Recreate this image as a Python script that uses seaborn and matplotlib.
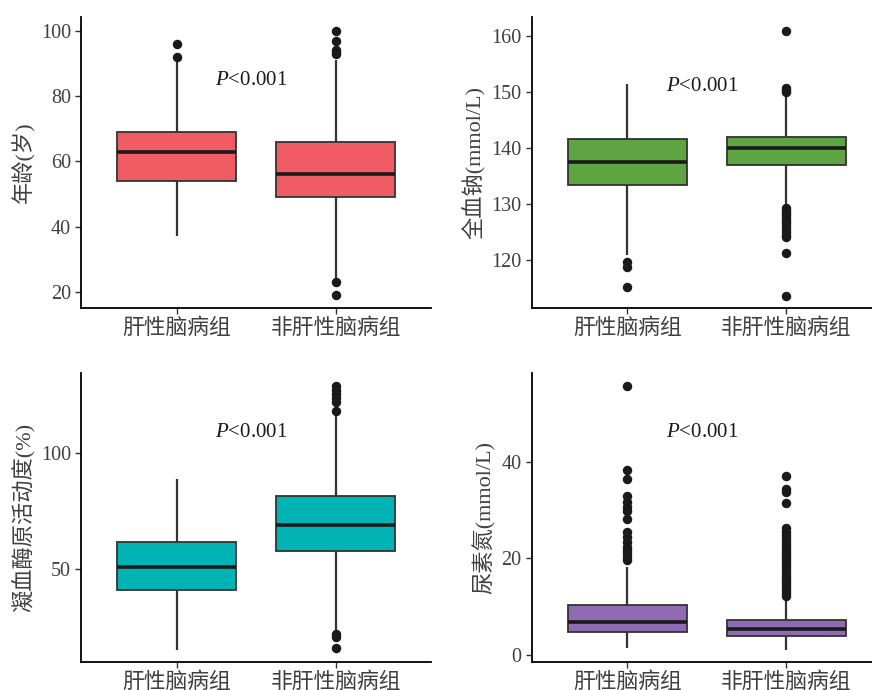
import pandas as pd
import matplotlib
matplotlib.use("Agg")
import matplotlib.pyplot as plt
import seaborn as sns

groups = ["肝性脑病组", "非肝性脑病组"]

# 年龄(岁): quartiles, whisker ends and outliers
age_q1 = [54, 49]
age_med = [63, 56]
age_q3 = [69, 66]
age_lo = [37, 24]
age_hi = [91, 91]
age_out = [[92, 96], [100, 97, 94, 93.5, 93, 23, 19]]

# 全血钠(mmol/L)
na_q1 = [133.3, 137.0]
na_med = [137.5, 140.0]
na_q3 = [141.6, 142.0]
na_lo = [120.9, 129.6]
na_hi = [151.3, 149.3]
na_out = [[119.7, 118.8, 115.2],
          [150.0, 150.3, 150.6, 160.9, 129.2, 128.8, 128.4, 128.0, 127.5,
           127.0, 126.5, 126.0, 125.5, 125.0, 124.5, 124.0, 121.3, 113.6]]

# 凝血酶原活动度(%)
pt_q1 = [40.8, 57.9]
pt_med = [51.0, 69.0]
pt_q3 = [61.8, 81.6]
pt_lo = [15.1, 23.0]
pt_hi = [88.7, 116.5]
pt_out = [[], [118.1, 121.9, 123.6, 125.3, 127.2, 129.0, 21.9, 20.8, 15.8]]

# 尿素氮(mmol/L)
bun_q1 = [4.8, 4.0]
bun_med = [6.9, 5.3]
bun_q3 = [10.3, 7.2]
bun_lo = [1.4, 1.0]
bun_hi = [18.3, 11.5]
bun_out = [[55.7, 38.3, 36.4, 32.9, 31.7, 30.7, 29.7, 28.1, 25.5, 24.5,
            23.4, 22.4, 21.7, 21.0, 20.3, 19.7],
           [37.1, 34.3, 33.7, 31.4, 26.2, 25.4, 24.8, 24.2, 23.6, 23.0,
            22.4, 21.8, 21.2, 20.6, 20.0, 19.4, 18.8, 18.2, 17.6, 17.0,
            16.4, 15.8, 15.2, 14.6, 14.0, 13.4, 12.8, 12.1]]


def box_table(q1, med, q3, lo, hi, out, k=200):
    # long table whose quartiles / whiskers / outliers match the read values
    rows = []
    for g, a, m, b, l, h, o in zip(groups, q1, med, q3, lo, hi, out):
        vals = [l] + [a] * k + [m] * k + [b] * k + [h] + list(o)
        rows += [(g, v) for v in vals]
    return pd.DataFrame(rows, columns=["group", "value"])


sns.set_theme(style="ticks")
plt.rcParams["font.family"] = ["Liberation Serif", "Noto Sans CJK SC"]
plt.rcParams["mathtext.fontset"] = "custom"
plt.rcParams["mathtext.rm"] = "Liberation Serif"
plt.rcParams["mathtext.it"] = "Liberation Serif:italic"

txt_col = "#404040"

panels = [
    dict(pos=[0.0932, 0.5536, 0.4011, 0.4222],
         df=box_table(age_q1, age_med, age_q3, age_lo, age_hi, age_out),
         color="#F05B64", ylabel="年龄(岁)", ylim=(15.1, 104.3),
         yticks=[20, 40, 60, 80, 100], ptxt=84.9),
    dict(pos=[0.6099, 0.5536, 0.4011, 0.4222],
         df=box_table(na_q1, na_med, na_q3, na_lo, na_hi, na_out),
         color="#5FA443", ylabel="全血钠(mmol/L)", ylim=(111.4, 163.4),
         yticks=[120, 130, 140, 150, 160], ptxt=151.0),
    dict(pos=[0.0932, 0.0410, 0.4011, 0.4180],
         df=box_table(pt_q1, pt_med, pt_q3, pt_lo, pt_hi, pt_out),
         color="#00B3B5", ylabel="凝血酶原活动度(%)", ylim=(10.0, 134.4),
         yticks=[50, 100], ptxt=109.0),
    dict(pos=[0.6099, 0.0410, 0.4011, 0.4180],
         df=box_table(bun_q1, bun_med, bun_q3, bun_lo, bun_hi, bun_out),
         color="#8E6BB2", ylabel="尿素氮(mmol/L)", ylim=(-1.4, 58.3),
         yticks=[0, 20, 40], ptxt=46.1),
]

fig = plt.figure(figsize=(8.72, 6.9), dpi=100)

for p in panels:
    ax = fig.add_axes(p["pos"])
    sns.boxplot(data=p["df"], x="group", y="value", order=groups, ax=ax,
                color=p["color"], saturation=1, width=0.75,
                linecolor="#333333", linewidth=1.3, showcaps=False,
                medianprops=dict(color="#1a1a1a", linewidth=2.6),
                whiskerprops=dict(color="#333333", linewidth=1.6),
                flierprops=dict(marker="o", markersize=5.8,
                                markerfacecolor="#1a1a1a",
                                markeredgecolor="#1a1a1a"))
    ax.set_xlim(-0.6, 1.6)
    ax.set_ylim(*p["ylim"])
    ax.set_yticks(p["yticks"])
    ax.set_xlabel("")
    ax.set_ylabel(p["ylabel"], fontsize=16, color=txt_col, fontweight="light")
    ax.tick_params(axis="both", colors="#333333", labelcolor=txt_col,
                   length=4, width=1)
    ax.tick_params(axis="y", labelsize=14.5)
    ax.tick_params(axis="x", labelsize=15.7)
    for lab in ax.get_xticklabels():
        lab.set_fontweight("light")
    for side in ["left", "bottom"]:
        ax.spines[side].set_color("black")
        ax.spines[side].set_linewidth(1.3)
    sns.despine(ax=ax)
    ax.text(0.47, p["ptxt"], r"$\mathit{P}$<0.001", ha="center", va="center",
            fontsize=15, color="#1a1a1a")

fig.savefig("out.png", dpi=100)
